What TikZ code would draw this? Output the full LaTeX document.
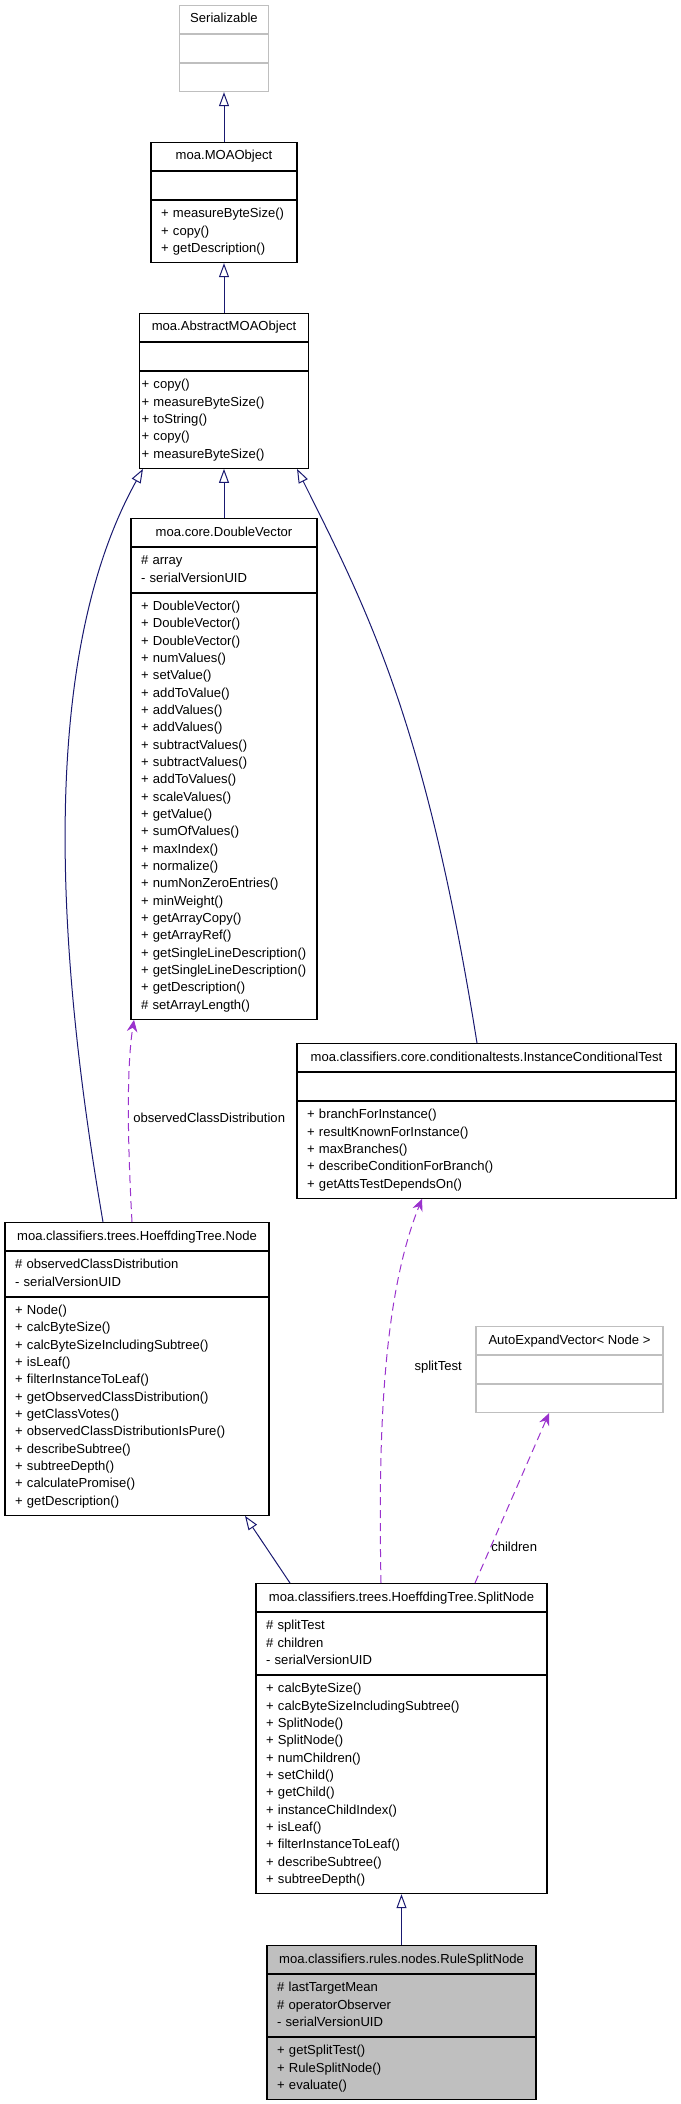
\documentclass[tikz,border=0pt]{standalone}
\usepackage{fontspec}
\setmainfont{Liberation Sans}
\usetikzlibrary{arrows.meta,positioning,calc}
\definecolor{inhblue}{RGB}{25,25,112}
\definecolor{deppurple}{RGB}{154,50,205}
\definecolor{boxgray}{RGB}{191,191,191}

\begin{document}
\begin{tikzpicture}[
  x=0.75pt, y=-0.75pt,
  node distance=0pt,
  every node/.style={font=\fontsize{9.8}{13}\selectfont},
  ttl/.style={draw,line width=0.8pt,minimum width=#1,minimum height=21pt,
    inner sep=0pt,anchor=north,execute at begin node=\strut},
  cmp/.style={draw,line width=0.8pt,minimum width=#1,minimum height=21pt,inner sep=0pt},
  mem/.style={draw,line width=0.8pt,text width=#1,align=left,inner xsep=7.5pt,
    inner ysep=3.75pt,execute at begin node=\strut,execute at end node=\strut},
  ext/.style={draw=boxgray},
  inh/.style={draw=inhblue,line width=0.75pt,
    -{Triangle[length=10.5pt,width=7.5pt,fill=white]}},
  dep/.style={draw=deppurple,line width=0.75pt,dash pattern=on 6pt off 3.75pt,
    -{Stealth[length=9pt,width=8pt,inset=3pt]}},
  lbl/.style={inner sep=0pt}
]
  \useasboundingbox (0,0) rectangle (681,2104);

  % parents
  \node[ttl=66.75pt,ext] (ser) at (224,5) {Serializable};
  \node[cmp=66.75pt,ext,below=of ser] (ser-a) {};
  \node[cmp=66.75pt,ext,below=of ser-a] (ser-m) {};

  \node[ttl=109.5pt] (moa) at (224,142) {moa.MOAObject};
  \node[cmp=109.5pt,below=of moa] (moa-a) {};
  \node[mem=94.5pt,below=of moa-a] (moa-m) {+ measureByteSize()\\+ copy()\\+ getDescription()};

  \node[ttl=126.75pt] (abs) at (224,313) {moa.AbstractMOAObject};
  \node[cmp=126.75pt,below=of abs] (abs-a) {};
  \node[mem=123.75pt,inner xsep=1.5pt,below=of abs-a] (abs-m) {+ copy()\\+ measureByteSize()\\+ toString()\\+ copy()\\+ measureByteSize()};

  \node[ttl=139.5pt] (dv) at (224,518) {moa.core.DoubleVector};
  \node[mem=124.5pt,below=of dv] (dv-a) {\# array\\- serialVersionUID};
  \node[mem=124.5pt,below=of dv-a] (dv-m) {+ DoubleVector()\\+ DoubleVector()\\+ DoubleVector()\\+ numValues()\\+ setValue()\\+ addToValue()\\+ addValues()\\+ addValues()\\+ subtractValues()\\+ subtractValues()\\+ addToValues()\\+ scaleValues()\\+ getValue()\\+ sumOfValues()\\+ maxIndex()\\+ normalize()\\+ numNonZeroEntries()\\+ minWeight()\\+ getArrayCopy()\\+ getArrayRef()\\+ getSingleLineDescription()\\+ getSingleLineDescription()\\+ getDescription()\\\# setArrayLength()};

  \node[ttl=284.25pt] (ict) at (486.5,1043) {moa.classifiers.core.conditionaltests.InstanceConditionalTest};
  \node[cmp=284.25pt,below=of ict] (ict-a) {};
  \node[mem=269.25pt,below=of ict-a] (ict-m) {+ branchForInstance()\\+ resultKnownForInstance()\\+ maxBranches()\\+ describeConditionForBranch()\\+ getAttsTestDependsOn()};

  % tree nodes
  \node[ttl=198pt] (hnode) at (137,1222) {moa.classifiers.trees.HoeffdingTree.Node};
  \node[mem=183pt,below=of hnode] (hnode-a) {\# observedClassDistribution\\- serialVersionUID};
  \node[mem=183pt,below=of hnode-a] (hnode-m) {+ Node()\\+ calcByteSize()\\+ calcByteSizeIncludingSubtree()\\+ isLeaf()\\+ filterInstanceToLeaf()\\+ getObservedClassDistribution()\\+ getClassVotes()\\+ observedClassDistributionIsPure()\\+ describeSubtree()\\+ subtreeDepth()\\+ calculatePromise()\\+ getDescription()};

  \node[ttl=140.25pt,ext] (aev) at (569.5,1326) {AutoExpandVector< Node >};
  \node[cmp=140.25pt,ext,below=of aev] (aev-a) {};
  \node[cmp=140.25pt,ext,below=of aev-a] (aev-m) {};

  \node[ttl=218.25pt] (split) at (401.5,1583) {moa.classifiers.trees.HoeffdingTree.SplitNode};
  \node[mem=203.25pt,below=of split] (split-a) {\# splitTest\\\# children\\- serialVersionUID};
  \node[mem=203.25pt,below=of split-a] (split-m) {+ calcByteSize()\\+ calcByteSizeIncludingSubtree()\\+ SplitNode()\\+ SplitNode()\\+ numChildren()\\+ setChild()\\+ getChild()\\+ instanceChildIndex()\\+ isLeaf()\\+ filterInstanceToLeaf()\\+ describeSubtree()\\+ subtreeDepth()};

  \node[ttl=201.75pt,fill=boxgray] (rule) at (401.5,1945) {moa.classifiers.rules.nodes.RuleSplitNode};
  \node[mem=186.75pt,fill=boxgray,below=of rule] (rule-a) {\# lastTargetMean\\\# operatorObserver\\- serialVersionUID};
  \node[mem=186.75pt,fill=boxgray,below=of rule-a] (rule-m) {+ getSplitTest()\\+ RuleSplitNode()\\+ evaluate()};

  % inheritance
  \draw[inh] (moa.north) -- (ser-m.south);
  \draw[inh] (abs.north) -- (moa-m.south);
  \draw[inh] (dv.north) -- (abs-m.south);
  \draw[inh] ($(hnode.north)+(-34,0)$) .. controls (69,1023) and (25,681) .. ($(abs-m.south)+(-81,0)$);
  \draw[inh] ($(ict.north)+(-9.5,0)$) .. controls (426,724) and (369,613) .. ($(abs-m.south)+(73,0)$);
  \draw[inh] ($(split.north)+(-111.5,0)$) -- ($(hnode-m.south)+(108,0)$);
  \draw[inh] (rule.north) -- (split-m.south);

  % usage
  \draw[dep] ($(hnode.north)+(-5,0)$) .. controls (128,1150) and (126,1070) .. ($(dv-m.south)+(-90,0)$);
  \draw[dep] ($(split.north)+(-20.5,0)$) .. controls (378,1433) and (383,1296) .. ($(ict-m.south)+(-64.5,0)$);
  \draw[dep] ($(split.north)+(73.5,0)$) -- ($(aev-m.south)+(-20.5,0)$);
  \node[lbl,anchor=west] (l-ocd) at (133,1118) {observedClassDistribution};
  \node[lbl,anchor=east] (l-split) at (462,1367) {splitTest};
  \node[lbl,anchor=west] (l-child) at (491,1547) {children};
\end{tikzpicture}
\end{document}
